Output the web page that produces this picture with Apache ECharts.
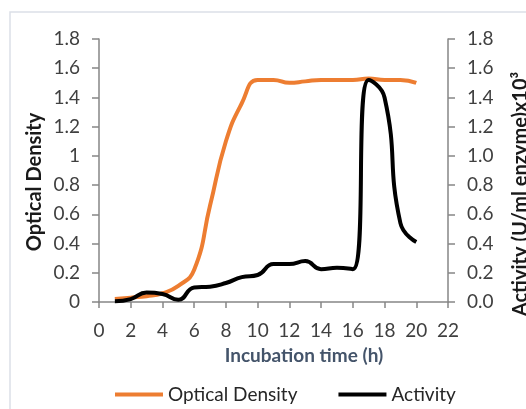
<!DOCTYPE html>
<html lang="en">
<head>
    <meta charset="UTF-8">
    <title>Optical Density and Activity</title>
    <script src="https://cdn.jsdelivr.net/npm/echarts@6.0.0/dist/echarts.min.js"></script>
    <style>
        * { margin: 0; padding: 0; box-sizing: border-box; }
        body { background: #ffffff; }
        #chart { width: 526px; height: 409px; }
    </style>
</head>
<body>
    <div id="chart"></div>

    <script>
        // values
        const hours = [1, 2, 3, 4, 5, 6, 7, 8, 9, 10, 11, 12, 13, 14, 15, 16, 17, 18, 19, 20];
        const opticalDensity = [0.02, 0.03, 0.04, 0.06, 0.11, 0.22, 0.66, 1.10, 1.36, 1.52, 1.52, 1.50, 1.51, 1.52, 1.52, 1.52, 1.53, 1.52, 1.52, 1.50];
        const activity = [0.005, 0.02, 0.065, 0.055, 0.015, 0.10, 0.105, 0.13, 0.17, 0.185, 0.26, 0.26, 0.28, 0.225, 0.235, 0.225, 1.52, 1.40, 0.54, 0.41];

        const font = 'Lato, "Noto Sans", sans-serif';
        const axisGray = '#868686';
        const labelGray = '#404040';

        const chart = echarts.init(document.getElementById('chart'));

        const yAxisBase = {
            type: 'value',
            min: 0,
            max: 1.8,
            interval: 0.2,
            axisLine: { show: true, lineStyle: { color: axisGray, width: 1.5 } },
            axisTick: { show: true, length: 7, lineStyle: { color: axisGray, width: 1.5 } },
            splitLine: { show: false },
            axisLabel: { color: labelGray, fontSize: 19, fontFamily: font, margin: 19 }
        };

        chart.setOption({
            animation: false,
            grid: { left: 99, right: 78, top: 39, bottom: 107 },
            xAxis: {
                type: 'value',
                min: 0,
                max: 22,
                interval: 2,
                axisLine: { lineStyle: { color: axisGray, width: 1.5 } },
                axisTick: { show: true, length: 6, lineStyle: { color: axisGray, width: 1.5 } },
                splitLine: { show: false },
                axisLabel: { color: labelGray, fontSize: 19, fontFamily: font, margin: 19 }
            },
            yAxis: [
                Object.assign({}, yAxisBase, {
                    position: 'left',
                    axisLabel: Object.assign({}, yAxisBase.axisLabel, {
                        formatter: v => String(+v.toFixed(1))
                    })
                }),
                Object.assign({}, yAxisBase, {
                    position: 'right',
                    axisLabel: Object.assign({}, yAxisBase.axisLabel, {
                        formatter: v => v.toFixed(1)
                    })
                })
            ],
            legend: {
                left: 115,
                top: 385,
                padding: 0,
                icon: 'rect',
                itemWidth: 48,
                itemHeight: 4,
                itemGap: 41,
                textStyle: { fontSize: 19, fontFamily: font, color: '#262626' },
                data: ['Optical Density', 'Activity']
            },
            graphic: [
                {
                    type: 'rect',
                    shape: { x: 10, y: 12, width: 540, height: 420 },
                    style: { fill: 'none', stroke: '#dbe0e7', lineWidth: 1.5 },
                    silent: true
                },
                {
                    type: 'text',
                    x: 35, y: 182,
                    rotation: Math.PI / 2,
                    style: {
                        text: 'Optical Density',
                        font: 'bold 20px ' + font,
                        fill: '#1a1a1a',
                        textAlign: 'center',
                        textVerticalAlign: 'middle'
                    }
                },
                {
                    type: 'text',
                    x: 521, y: 194,
                    rotation: Math.PI / 2,
                    style: {
                        text: 'Activity (U/ml enzyme)x10³',
                        font: 'bold 20px ' + font,
                        fill: '#1a1a1a',
                        textAlign: 'center',
                        textVerticalAlign: 'middle'
                    }
                },
                {
                    type: 'text',
                    x: 304, y: 356,
                    style: {
                        text: 'Incubation time (h)',
                        font: 'bold 19px ' + font,
                        fill: '#44546a',
                        textAlign: 'center',
                        textVerticalAlign: 'middle'
                    }
                }
            ],
            series: [
                {
                    name: 'Optical Density',
                    type: 'line',
                    yAxisIndex: 0,
                    smooth: true,
                    symbol: 'none',
                    lineStyle: { color: '#ed7d31', width: 4 },
                    itemStyle: { color: '#ed7d31' },
                    data: hours.map((h, i) => [h, opticalDensity[i]])
                },
                {
                    name: 'Activity',
                    type: 'line',
                    yAxisIndex: 1,
                    smooth: true,
                    symbol: 'none',
                    lineStyle: { color: '#000000', width: 4 },
                    itemStyle: { color: '#000000' },
                    data: hours.map((h, i) => [h, activity[i]])
                }
            ]
        });
    </script>
</body>
</html>
